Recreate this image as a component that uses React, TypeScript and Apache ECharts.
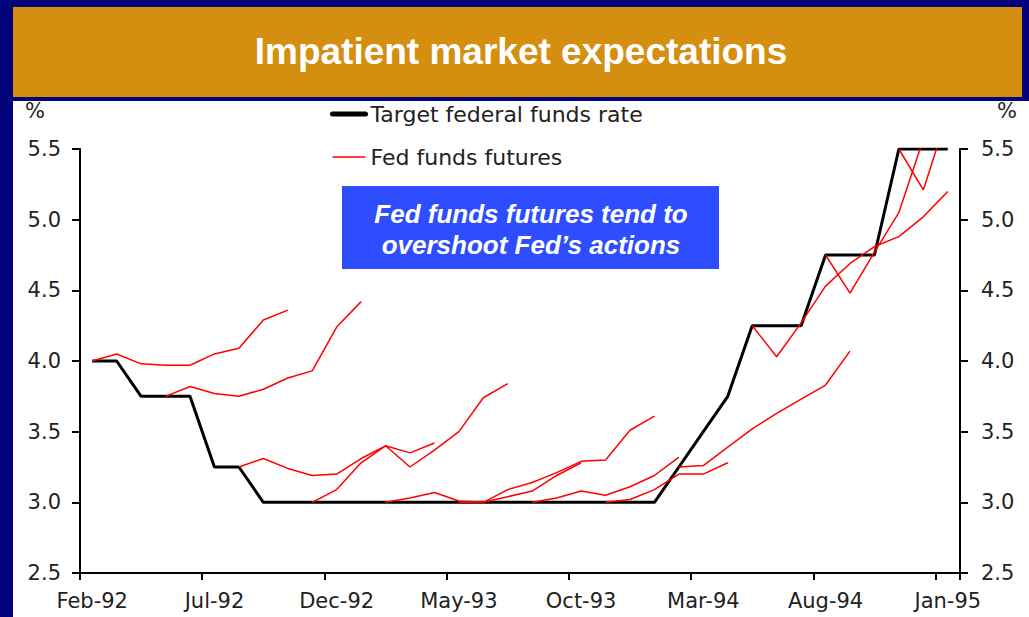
import React, { useEffect, useRef } from "react";
import * as echarts from "echarts";

// ---- Data ----
const months = [
  "Feb-92", "Mar-92", "Apr-92", "May-92", "Jun-92", "Jul-92", "Aug-92", "Sep-92", "Oct-92", "Nov-92", "Dec-92", "Jan-93",
  "Feb-93", "Mar-93", "Apr-93", "May-93", "Jun-93", "Jul-93", "Aug-93", "Sep-93", "Oct-93", "Nov-93", "Dec-93", "Jan-94",
  "Feb-94", "Mar-94", "Apr-94", "May-94", "Jun-94", "Jul-94", "Aug-94", "Sep-94", "Oct-94", "Nov-94", "Dec-94", "Jan-95",
];

const targetRate = [
  4.0, 4.0, 3.75, 3.75, 3.75, 3.25, 3.25,
  3.0, 3.0, 3.0, 3.0, 3.0, 3.0, 3.0, 3.0, 3.0, 3.0, 3.0, 3.0, 3.0, 3.0, 3.0, 3.0, 3.0,
  3.25, 3.5, 3.75, 4.25, 4.25, 4.25, 4.75, 4.75, 4.75, 5.5, 5.5, 5.5,
];

// Futures strips: month they start from, and monthly values
const futFeb92Start = "Feb-92";
const futFeb92 = [4.0, 4.05, 3.98, 3.97, 3.97, 4.05, 4.09, 4.29, 4.36];
const futMay92Start = "May-92";
const futMay92 = [3.75, 3.82, 3.77, 3.75, 3.8, 3.88, 3.93, 4.24, 4.42];
const futAug92Start = "Aug-92";
const futAug92 = [3.25, 3.31, 3.24, 3.19, 3.2, 3.31, 3.4, 3.35, 3.42];
const futNov92Start = "Nov-92";
const futNov92 = [3.0, 3.09, 3.28, 3.4, 3.25, 3.37, 3.5, 3.74, 3.84];
const futFeb93Start = "Feb-93";
const futFeb93 = [3.0, 3.03, 3.07, 3.01, 3.0, 3.04, 3.08, 3.19, 3.28];
const futMay93Start = "May-93";
const futMay93 = [3.0, 3.0, 3.09, 3.14, 3.21, 3.29, 3.3, 3.51, 3.61];
const futAug93Start = "Aug-93";
const futAug93 = [3.0, 3.03, 3.08, 3.05, 3.11, 3.19, 3.32];
const futNov93Start = "Nov-93";
const futNov93 = [3.0, 3.02, 3.09, 3.2, 3.2, 3.28];
const futFeb94Start = "Feb-94";
const futFeb94 = [3.25, 3.26, 3.39, 3.52, 3.63, 3.73, 3.83, 4.07];
const futMay94Start = "May-94";
const futMay94 = [4.25, 4.03, 4.27, 4.53, 4.69, 4.81, 4.88, 5.02, 5.2];
const futAug94Start = "Aug-94";
const futAug94 = [4.75, 4.48, 4.77, 5.05, 5.57, 5.9];
const futNov94Start = "Nov-94";
const futNov94 = [5.5, 5.21, 5.75];

const yTicks = [2.5, 3.0, 3.5, 4.0, 4.5, 5.0, 5.5];

const strips: [string, number[]][] = [
  [futFeb92Start, futFeb92], [futMay92Start, futMay92], [futAug92Start, futAug92],
  [futNov92Start, futNov92], [futFeb93Start, futFeb93], [futMay93Start, futMay93],
  [futAug93Start, futAug93], [futNov93Start, futNov93], [futFeb94Start, futFeb94],
  [futMay94Start, futMay94], [futAug94Start, futAug94], [futNov94Start, futNov94],
];

const NAVY = "#02027a";
const ORANGE = "#d48e10";
const CHART_FONT = "DejaVu Sans";
const TEXT_COL = "#222";

function padStrip(start: string, values: number[]) {
  const arr: (number | null)[] = months.map(() => null);
  const s = months.indexOf(start);
  values.forEach((v, i) => {
    if (s + i < arr.length) arr[s + i] = v;
  });
  return arr;
}

export default function App() {
  const ref = useRef<HTMLDivElement>(null);

  useEffect(() => {
    if (!ref.current) return;
    const chart = echarts.init(ref.current, undefined, { renderer: "svg" });

    const yAxisBase = (pos: "left" | "right") => ({
      type: "value",
      position: pos,
      min: yTicks[0],
      max: yTicks[yTicks.length - 1],
      interval: 0.5,
      name: "%",
      nameLocation: "end",
      nameGap: 28,
      nameTextStyle: {
        fontFamily: CHART_FONT,
        fontSize: 21,
        color: TEXT_COL,
        align: "center",
        padding: pos === "left" ? [0, 90, 0, 0] : [0, 0, 0, 94],
      },
      axisLine: { show: true, lineStyle: { color: "#000", width: 2 } },
      axisTick: { show: true, length: 8, lineStyle: { color: "#000", width: 2 } },
      axisLabel: {
        margin: pos === "left" ? 19 : 21,
        fontFamily: CHART_FONT,
        fontSize: 21,
        color: TEXT_COL,
        formatter: (v: number) => v.toFixed(1),
      },
      splitLine: { show: false },
    });

    const futuresSeries = strips.map(([start, vals]) => ({
      name: "Fed funds futures",
      type: "line",
      data: padStrip(start, vals),
      symbol: "none",
      showSymbol: false,
      connectNulls: false,
      clip: true,
      z: 3,
      lineStyle: { color: "#ff0000", width: 1.5 },
      itemStyle: { color: "#ff0000" },
    }));

    chart.setOption({
      animation: false,
      backgroundColor: NAVY,
      title: {
        text: "Impatient market expectations",
        left: 521,
        top: 33,
        padding: 0,
        textAlign: "center",
        textStyle: {
          color: "#ffffff",
          fontSize: 37,
          fontWeight: "bold",
          fontFamily: "Liberation Sans",
        },
      },
      legend: {
        orient: "vertical",
        left: 330,
        top: 103,
        padding: 0,
        itemGap: 21,
        itemWidth: 33,
        itemHeight: 14,
        itemStyle: { opacity: 0 },
        textStyle: { fontFamily: CHART_FONT, fontSize: 22, color: TEXT_COL },
        data: [
          { name: "Target federal funds rate", lineStyle: { width: 5, color: "#000", cap: "round" } },
          { name: "Fed funds futures", lineStyle: { width: 1.5, color: "#ff0000" } },
        ],
      },
      grid: { left: 80, right: 69, top: 149, bottom: 44 },
      xAxis: {
        type: "category",
        data: months,
        boundaryGap: true,
        axisLine: { lineStyle: { color: "#000", width: 2 } },
        axisTick: { show: true, interval: 4, length: 7, lineStyle: { color: "#000", width: 2 } },
        axisLabel: {
          interval: 4,
          margin: 17,
          fontFamily: CHART_FONT,
          fontSize: 21,
          color: TEXT_COL,
        },
        splitLine: { show: false },
      },
      yAxis: [yAxisBase("left"), yAxisBase("right")],
      series: [
        {
          name: "Target federal funds rate",
          type: "line",
          data: targetRate,
          symbol: "none",
          showSymbol: false,
          z: 2,
          lineStyle: { color: "#000", width: 3 },
          itemStyle: { color: "#000" },
        },
        ...futuresSeries,
      ],
      graphic: [
        {
          type: "rect",
          z: -10,
          shape: { x: 13, y: 97, width: 1016, height: 520 },
          style: { fill: "#ffffff" },
        },
        {
          type: "rect",
          z: 1,
          shape: { x: 0, y: 96, width: 1029, height: 5 },
          style: { fill: NAVY },
        },
        {
          type: "rect",
          z: 1,
          shape: { x: 13, y: 7, width: 1009, height: 90 },
          style: { fill: ORANGE },
        },
        {
          type: "rect",
          z: 5,
          shape: { x: 342, y: 186, width: 377, height: 83 },
          style: { fill: "#2d4dff" },
        },
        {
          type: "text",
          z: 6,
          x: 531,
          y: 214,
          style: {
            text: "Fed funds futures tend to",
            fill: "#ffffff",
            fontSize: 26,
            fontWeight: "bold",
            fontStyle: "italic",
            fontFamily: "Liberation Sans",
            align: "center",
            verticalAlign: "middle",
          },
        },
        {
          type: "text",
          z: 6,
          x: 531,
          y: 245,
          style: {
            text: "overshoot Fed\u2019s actions",
            fill: "#ffffff",
            fontSize: 26,
            fontWeight: "bold",
            fontStyle: "italic",
            fontFamily: "Liberation Sans",
            align: "center",
            verticalAlign: "middle",
          },
        },
      ],
    });

    return () => chart.dispose();
  }, []);

  return (
    <div
      ref={ref}
      style={{ position: "absolute", left: 0, top: 0, width: 1029, height: 617 }}
    />
  );
}
